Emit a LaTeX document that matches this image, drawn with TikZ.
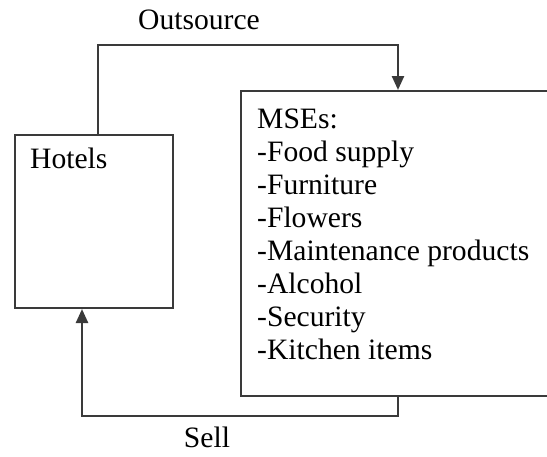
\documentclass[tikz,border=0pt]{standalone}
\usepackage{fontspec}
\setmainfont{Liberation Serif}
\usetikzlibrary{arrows.meta,positioning}
\definecolor{edgegray}{HTML}{3A3A3A}

\begin{document}
\begin{tikzpicture}[x=1pt,y=-1pt,
    font=\fontsize{29.6}{33}\selectfont,
    >={Triangle[length=14pt,width=12pt]},
    party/.style={draw=edgegray,line width=2pt,anchor=north west,inner sep=0pt},
    itemlist/.style={align=left,inner sep=0pt},
    flow/.style={draw=edgegray,line width=2.4pt,->}]
  \path[use as bounding box,clip] (0,0) rectangle (547,456);

  % the two parties
  \node[party,minimum width=158pt,minimum height=173pt] (hotels) at (14,134) {};
  \node[party,minimum width=330pt,minimum height=305pt] (mses) at (240,90) {};
  \node[itemlist,anchor=base west] (hotelsText) at (30,168) {Hotels};
  \node[itemlist,anchor=north west] (msesText) at (257,109)
        {MSEs:\\-Food supply\\-Furniture\\-Flowers\\-Maintenance products\\
         -Alcohol\\-Security\\-Kitchen items};

  % bends of the two flows
  \coordinate (outL)  at (98,45);
  \coordinate (outR)  at (398,45);
  \coordinate (sellR) at (398,416);
  \coordinate (sellL) at (82,416);

  \draw[flow] (outL |- hotels.north) -- (outL) -- (outR) -- (outR |- mses.north);
  \draw[flow] (sellR |- mses.south) -- (sellR) -- (sellL) -- (sellL |- hotels.south);

  \node[anchor=base] (outLabel)  at (199,29)  {Outsource};
  \node[anchor=base] (sellLabel) at (207,447) {Sell};
\end{tikzpicture}
\end{document}
